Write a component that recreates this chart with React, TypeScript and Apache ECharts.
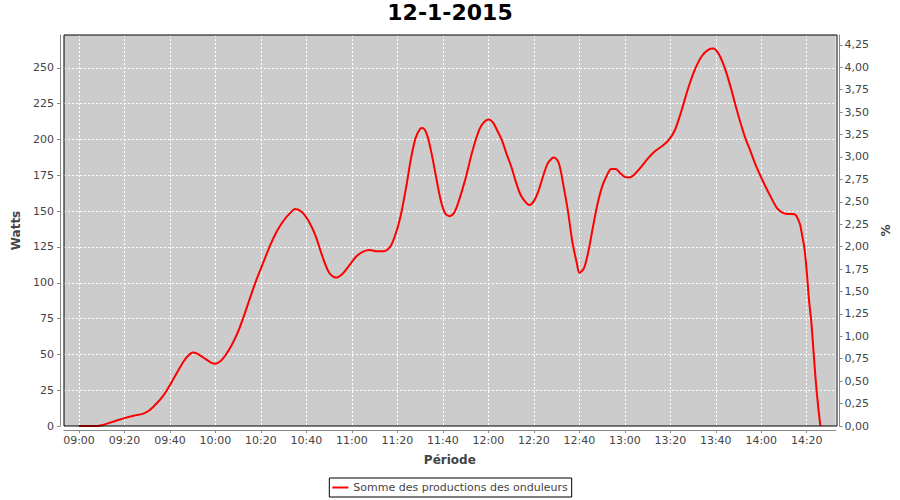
import React, { useEffect, useRef } from "react";
import * as echarts from "echarts";

const TITLE = "12-1-2015";
const SERIES_NAME = "Somme des productions des onduleurs";
const X_NAME = "Période";
const Y_LEFT_NAME = "Watts";
const Y_RIGHT_NAME = "%";

const times = [
  "09:00", "09:04", "09:08", "09:10", "09:12", "09:16", "09:20", "09:24", "09:28", "09:31",
  "09:34", "09:37", "09:40", "09:43", "09:46", "09:48", "09:50", "09:52", "09:55", "09:58",
  "10:00", "10:02", "10:04", "10:07", "10:10", "10:13", "10:15", "10:18", "10:21", "10:24",
  "10:27", "10:30", "10:33", "10:35", "10:38", "10:41", "10:44", "10:47", "10:50", "10:53",
  "10:56", "10:59", "11:02", "11:05", "11:08", "11:11", "11:14", "11:17", "11:20", "11:22",
  "11:24", "11:26", "11:28", "11:30", "11:31", "11:33", "11:35", "11:37", "11:39", "11:41",
  "11:43", "11:45", "11:47", "11:50", "11:53", "11:56", "11:58", "12:00", "12:02", "12:04",
  "12:06", "12:08", "12:10", "12:12", "12:14", "12:16", "12:18", "12:20", "12:22", "12:24",
  "12:26", "12:28", "12:29", "12:31", "12:33", "12:35", "12:37", "12:39", "12:40", "12:42",
  "12:44", "12:46", "12:48", "12:50", "12:52", "12:54", "12:56", "12:58", "13:00", "13:02",
  "13:04", "13:07", "13:10", "13:13", "13:16", "13:19", "13:22", "13:25", "13:28", "13:31",
  "13:34", "13:37", "13:39", "13:41", "13:43", "13:45", "13:47", "13:49", "13:51", "13:53",
  "13:55", "13:58", "14:01", "14:04", "14:07", "14:10", "14:13", "14:15", "14:17", "14:18",
  "14:19", "14:20", "14:21", "14:22", "14:23", "14:24", "14:25", "14:26"
];

const watts = [
  0, 0, 0, 0.5, 1.5, 3.5, 5.5, 7.2, 8.5, 11,
  15.5, 21, 28.6, 37, 45, 49, 51.3, 50.5, 47.5, 44.3,
  43.5, 45, 48.5, 56, 66, 79, 88.5, 102, 114, 126,
  136, 143.5, 149, 151.5, 149.5, 143, 133, 118.5, 107, 103.6,
  106.5, 112.5, 118.5, 121.8, 122.8, 122, 122, 125.5, 138, 151,
  168, 187, 201, 207.5, 208, 203.5, 190.5, 174, 158, 148.5,
  146.5, 149, 157, 173, 192, 207, 212, 214, 212, 206,
  199.5, 190, 181.5, 171, 162, 157, 154.3, 157, 164, 174,
  183, 187, 187.5, 183.5, 168, 150, 128, 113, 107, 110,
  122, 139, 155, 167, 174.5, 179.5, 179.5, 176.5, 174, 173.5,
  175.3, 180.5, 186.5, 191.5, 195, 199, 206.5, 220.5, 236.5, 249.5,
  258.5, 263, 263.5, 260.5, 254, 245, 234, 222, 211, 201,
  193, 180.5, 170, 160.5, 152, 148.5, 148, 147.5, 141, 133,
  124, 108, 88, 73, 52, 31, 14, 0
];

const FONT = "DejaVu Sans";

const toMinutes = (t: string) => {
  const [h, m] = t.split(":").map(Number);
  return (h - 9) * 60 + m;
};

const fmtTime = (v: number) => {
  const total = Math.round(v) + 9 * 60;
  const h = Math.floor(total / 60);
  const m = total % 60;
  return String(h).padStart(2, "0") + ":" + String(m).padStart(2, "0");
};

export default function App() {
  const ref = useRef<HTMLDivElement>(null);

  useEffect(() => {
    if (!ref.current) return;
    const chart = echarts.init(ref.current, undefined, { renderer: "svg" });
    const data = times.map((t, i) => [toMinutes(t), watts[i]]);

    const gridLeft = 64;
    const gridTop = 35;
    const gridW = 773;
    const gridH = 391;

    const axisLabelStyle = { color: "#444", fontFamily: FONT, fontSize: 11 };
    const nameStyle = { color: "#444", fontFamily: FONT, fontSize: 12, fontWeight: "bold" as const };

    chart.setOption({
      animation: false,
      backgroundColor: "#ffffff",
      title: {
        text: TITLE,
        left: "center",
        top: 1,
        padding: 0,
        textStyle: { fontFamily: FONT, fontSize: 22, fontWeight: "bold", color: "#000" },
      },
      legend: {
        bottom: 3,
        left: "center",
        data: [SERIES_NAME],
        icon: "rect",
        itemWidth: 16,
        itemHeight: 2,
        itemGap: 0,
        padding: [4, 4, 4, 3],
        borderColor: "#000",
        borderWidth: 1,
        borderRadius: 0,
        textStyle: { fontFamily: FONT, fontSize: 11, color: "#444" },
      },
      grid: {
        left: gridLeft,
        top: gridTop,
        width: gridW,
        height: gridH,
        show: true,
        backgroundColor: "#cccccc",
        borderWidth: 0,
        containLabel: false,
      },
      xAxis: {
        type: "value",
        min: -6.6,
        max: 332.7,
        splitNumber: 17,
        offset: 4,
        name: X_NAME,
        nameLocation: "middle",
        nameGap: 24,
        nameTextStyle: nameStyle,
        axisLine: { show: true, onZero: false, lineStyle: { color: "#888", width: 1 } },
        axisTick: { show: true, length: 3, lineStyle: { color: "#888" } },
        axisLabel: {
          ...axisLabelStyle,
          margin: 5,
          showMinLabel: false,
          showMaxLabel: false,
          formatter: (v: number) => fmtTime(v),
        },
        splitLine: {
          show: true,
          showMinLine: false,
          showMaxLine: false,
          lineStyle: { color: "#ffffff", type: [2, 2], width: 1 },
        },
      },
      yAxis: [
        {
          type: "value",
          min: 0,
          max: 273,
          interval: 25,
          offset: 4,
          position: "left",
          name: Y_LEFT_NAME,
          nameLocation: "middle",
          nameGap: 26,
          nameRotate: 90,
          nameTextStyle: nameStyle,
          axisLine: { show: true, onZero: false, lineStyle: { color: "#888", width: 1 } },
          axisTick: { show: true, length: 3, lineStyle: { color: "#888" } },
          axisLabel: { ...axisLabelStyle, margin: 6, showMaxLabel: false },
          splitLine: {
            show: true,
            showMinLine: false,
            showMaxLine: false,
            lineStyle: { color: "#ffffff", type: [2, 2], width: 1 },
          },
        },
        {
          type: "value",
          min: 0,
          max: 4.36,
          interval: 0.25,
          offset: 4,
          position: "right",
          name: Y_RIGHT_NAME,
          nameLocation: "middle",
          nameGap: 30,
          nameRotate: 90,
          nameTextStyle: nameStyle,
          axisLine: { show: true, onZero: false, lineStyle: { color: "#888", width: 1 } },
          axisTick: { show: true, length: 3, lineStyle: { color: "#888" } },
          axisLabel: {
            ...axisLabelStyle,
            margin: 5,
            showMaxLabel: false,
            formatter: (v: number) => v.toFixed(2).replace(".", ","),
          },
          splitLine: { show: false },
        },
      ],
      graphic: [
        {
          type: "rect",
          z: 100,
          shape: { x: gridLeft, y: gridTop, width: gridW, height: gridH },
          style: { fill: "none", stroke: "#000", lineWidth: 1 },
          silent: true,
        },
      ],
      series: [
        {
          name: SERIES_NAME,
          type: "line",
          xAxisIndex: 0,
          yAxisIndex: 0,
          data,
          smooth: 0.3,
          showSymbol: false,
          symbol: "none",
          lineStyle: { color: "#ff0000", width: 2 },
          itemStyle: { color: "#ff0000" },
          clip: true,
        },
      ],
    });

    return () => chart.dispose();
  }, []);

  return <div ref={ref} style={{ width: 900, height: 500, position: "absolute", left: 0, top: 0 }} />;
}
